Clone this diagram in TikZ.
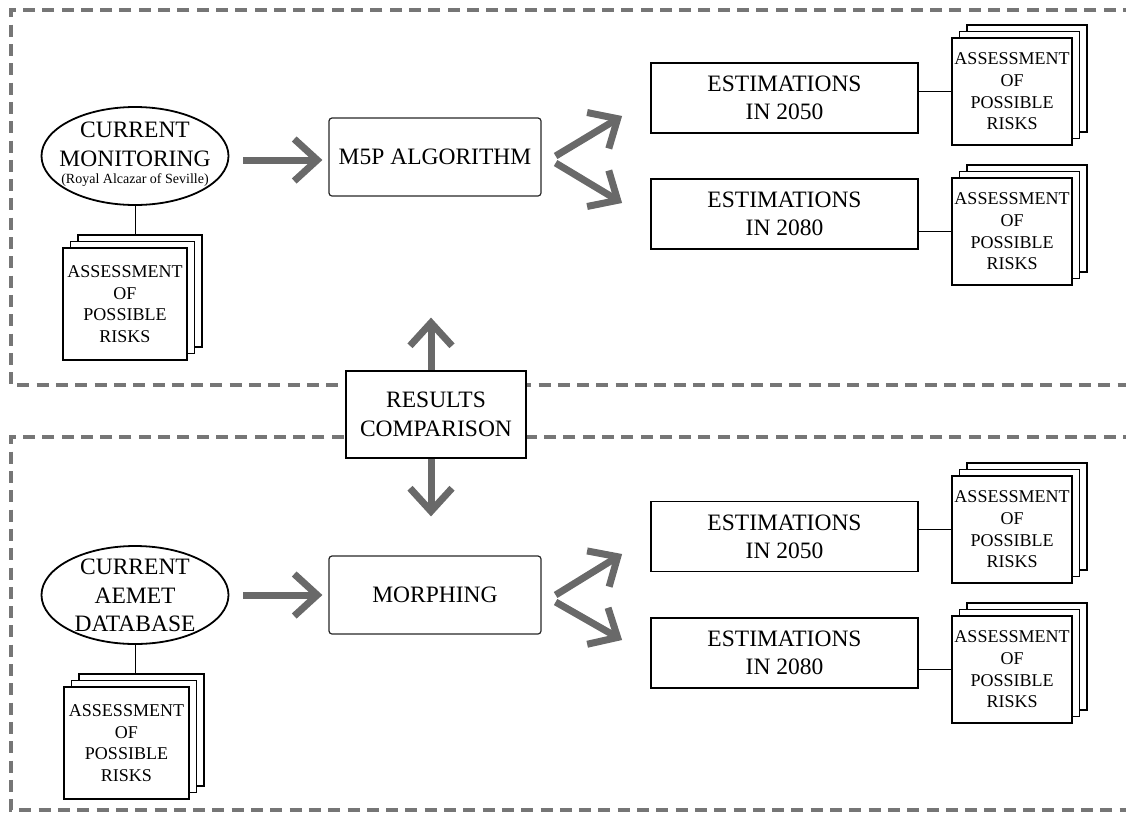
\documentclass[tikz,border=0pt]{standalone}
\usepackage{fontspec}
\setmainfont{Liberation Serif}
\usetikzlibrary{arrows.meta,shapes.geometric,calc}
\definecolor{arrgray}{RGB}{105,105,105}
\definecolor{dashgray}{RGB}{118,118,118}
\newcommand\riskstack[5]{%
  \node[sheet,minimum width=#4,minimum height=#5] (#1c) at (#2+15,#3-13) {};
  \node[sheet,minimum width=#4,minimum height=#5] (#1b) at (#2+7.5,#3-6.5) {};
  \node[risktext,minimum width=#4,minimum height=#5] (#1) at (#2,#3) {ASSESSMENT\\OF\\POSSIBLE\\RISKS};}
\begin{document}
\begin{tikzpicture}[x=1pt,y=-1pt,
 frame/.style={draw=dashgray,line width=3.5pt,dash pattern=on 12pt off 7.3pt},
 bigarrow/.style={draw=arrgray,line width=7pt,-{Straight Barb[length=23pt,width=42pt]}},
 estbox/.style={draw,line width=1.8pt,minimum width=267pt,minimum height=70pt,inner sep=0pt,align=center,font=\fontsize{23.5}{28}\selectfont},
 procbox/.style={draw=black!85,line width=1.2pt,rounded corners=3pt,minimum width=212pt,minimum height=78pt,inner sep=0pt,font=\fontsize{23.5}{28}\selectfont},
 resbox/.style={draw,fill=white,line width=1.8pt,minimum width=180pt,minimum height=87pt,inner sep=0pt,align=center,font=\fontsize{23.5}{29}\selectfont},
 sheet/.style={draw,fill=white,line width=1.6pt,inner sep=0pt},
 risktext/.style={sheet,align=center,font=\fontsize{18}{21.7}\selectfont},
 ell/.style={ellipse,draw,line width=1.8pt,minimum width=187pt,minimum height=98pt,inner sep=0pt},
 elltext/.style={anchor=base,inner sep=0pt,font=\fontsize{23.5}{28}\selectfont},
 link/.style={draw,line width=1pt},
]
\useasboundingbox (0,0) rectangle (1126,812);
\draw[frame] (1135,10) -- (11,10) -- (11,385) -- (1135,385);
\draw[frame] (1135,437) -- (11,437) -- (11,810) -- (1135,810);

% top section
\node[ell] (cm) at (135,156) {};
\node[elltext] (cm1) at (135,137) {CURRENT};
\node[elltext] (cm2) at (135,166) {MONITORING};
\node[elltext,font=\fontsize{14}{16}\selectfont] (cm3) at (135,183) {(Royal Alcazar of Seville)};
\node[procbox] (m5p) at (435,157) {M5P ALGORITHM};
\node[estbox] (e1) at (784.5,98) {ESTIMATIONS\\IN 2050};
\node[estbox] (e2) at (784.5,214) {ESTIMATIONS\\IN 2080};
\riskstack{r0}{125}{304}{124pt}{112pt}
\riskstack{r1}{1012}{91.5}{120pt}{107pt}
\riskstack{r2}{1012}{231.5}{120pt}{107pt}

% bottom section
\node[ell] (ca) at (135,595) {};
\node[elltext] (ca1) at (135,574) {CURRENT};
\node[elltext] (ca2) at (135,603) {AEMET};
\node[elltext] (ca3) at (135,631) {DATABASE};
\node[procbox] (mor) at (435,595) {MORPHING};
\node[estbox] (e3) at (784.5,536.5) {ESTIMATIONS\\IN 2050};
\node[estbox] (e4) at (784.5,653) {ESTIMATIONS\\IN 2080};
\riskstack{r3}{1012}{529.5}{120pt}{107pt}
\riskstack{r4}{1012}{669.5}{120pt}{107pt}
\riskstack{r5}{126.5}{743}{125pt}{112pt}

% thin connectors
\draw[link] (cm.south) -- (cm.south |- r0c.north);
\draw[link] (ca.south) -- (ca.south |- r5c.north);
\draw[link] (e1.east |- r1.west) -- (r1.west);
\draw[link] (e2.east |- r2.west) -- (r2.west);
\draw[link] (e3.east |- r3.west) -- (r3.west);
\draw[link] (e4.east |- r4.west) -- (r4.west);

% thick arrows
\draw[bigarrow] ($(cm.east)+(14,4)$) -- ($(m5p.west)+(-6,3)$);
\draw[bigarrow] ($(m5p.east)+(14,-1)$) -- ($(e1.west)+(-28,18)$);
\draw[bigarrow] ($(m5p.east)+(14,6)$) -- ($(e2.west)+(-28,-11)$);
\draw[bigarrow] ($(ca.east)+(14,0)$) -- ($(mor.west)+(-6,0)$);
\draw[bigarrow] ($(mor.east)+(14,0)$) -- ($(e3.west)+(-28,17.5)$);
\draw[bigarrow] ($(mor.east)+(14,7)$) -- ($(e4.west)+(-28,-13)$);

% results comparison
\node[resbox] (res) at (436,414.5) {RESULTS\\COMPARISON};
\coordinate (upend) at ($(m5p.south)+(-4,121)$);
\coordinate (downend) at ($(mor.north)+(-4,-39)$);
\draw[bigarrow] ($(res.north)+(-5,0)$) -- (upend);
\draw[bigarrow] ($(res.south)+(-5,0)$) -- (downend);
\end{tikzpicture}
\end{document}
